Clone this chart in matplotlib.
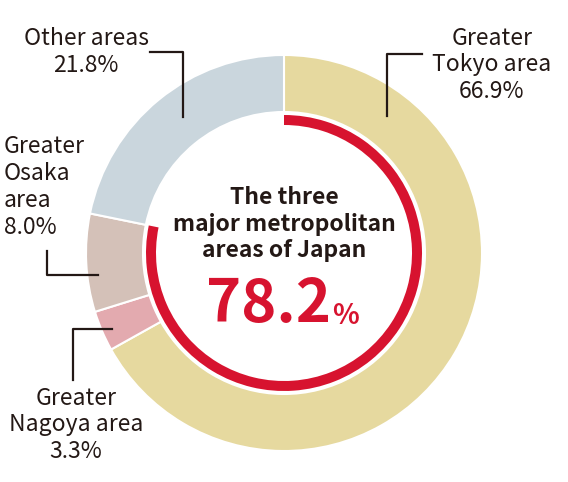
import matplotlib.pyplot as plt

plt.rcParams['font.family'] = ['Noto Sans CJK JP', 'DejaVu Sans']

# Share of population by area (%)
areas = ['Greater Tokyo area', 'Greater Nagoya area', 'Greater Osaka area', 'Other areas']
shares = [66.9, 3.3, 8.0, 21.8]
colors = ['#e6d99f', '#e3aaaf', '#d4c1b8', '#cad6dd']
three_major = 78.2

text_color = '#231815'
red = '#d7132f'

fig = plt.figure(figsize=(5.68, 4.82), dpi=100)
ax = fig.add_axes([0, 0, 1, 1])

cx, cy = 284, 482 - 253

# outer ring
ax.pie(shares, colors=colors, startangle=90, counterclock=False,
       center=(cx, cy), radius=198, frame=True,
       wedgeprops=dict(width=57, edgecolor='white', linewidth=1.5))

# red arc for the three major metropolitan areas
ax.pie([three_major, 100 - three_major], colors=[red, 'none'], startangle=90,
       counterclock=False, center=(cx, cy), radius=138, frame=True,
       wedgeprops=dict(width=10, edgecolor='none'))

ax.set_xlim(0, 568)
ax.set_ylim(0, 482)
ax.set_aspect('equal')
ax.axis('off')

def y(v):
    return 482 - v

lab = dict(fontsize=16.5, color=text_color, linespacing=1.22)

# labels
ax.text(492, y(65), 'Greater\nTokyo area\n66.9%', ha='center', va='center', **lab)
ax.plot([422, 387, 387], [y(54), y(54), y(116)], color=text_color, lw=1.6)

ax.text(86, y(52), 'Other areas\n21.8%', ha='center', va='center', **lab)
ax.plot([150, 183, 183], [y(52), y(52), y(117)], color=text_color, lw=1.6)

ax.text(4, y(187), 'Greater\nOsaka\narea\n8.0%', ha='left', va='center', **lab)
ax.plot([47, 47, 98], [y(251), y(275), y(275)], color=text_color, lw=1.6)

ax.text(76, y(425), 'Greater\nNagoya area\n3.3%', ha='center', va='center', **lab)
ax.plot([112, 73, 73], [y(329), y(329), y(380)], color=text_color, lw=1.6)

# center text
ax.text(cx, y(224), 'The three\nmajor metropolitan\nareas of Japan', ha='center', va='center',
        fontsize=16.5, fontweight='bold', color=text_color, linespacing=1.2)
ax.text(cx + 47, y(305), f'{three_major}', ha='right', va='center', fontsize=43,
        fontweight='bold', color=red)
ax.text(cx + 48, y(316), '%', ha='left', va='center', fontsize=20,
        fontweight='bold', color=red)

fig.savefig('out.png', dpi=100)
